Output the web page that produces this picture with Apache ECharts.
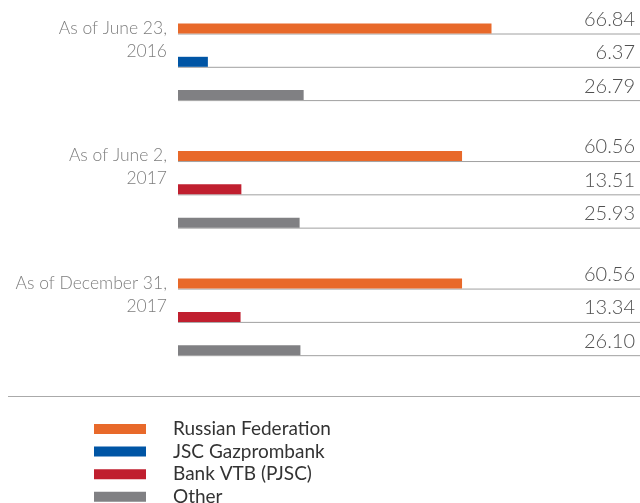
<!DOCTYPE html>
<html>
<head>
<meta charset="utf-8">
<script src="https://cdn.jsdelivr.net/npm/echarts@6/dist/echarts.min.js"></script>
<style>
html,body{margin:0;padding:0;background:#fff;}
#main{width:640px;height:503px;}
</style>
</head>
<body>
<div id="main"></div>
<script>
var periods = ['As of June 23,\n2016', 'As of June 2,\n2017', 'As of December 31,\n2017'];
var holders = ['Russian Federation', 'JSC Gazprombank', 'Bank VTB (PJSC)', 'Other'];
var russianFederation = [66.84, 60.56, 60.56];
var gazprombank = [6.37, null, null];
var bankVtb = [null, 13.51, 13.34];
var other = [26.79, 25.93, 26.10];

var colors = ['#e8692a', '#0055a5', '#c01f2f', '#808083'];
var FONT = 'Lato, "Open Sans", sans-serif';
var GROUP_STEP = 3.83;   // spacing between periods, in row units

var chart = echarts.init(document.getElementById('main'));

// turn one holder's values into [value, row position]
function rows(values, row){
	var out = [];
	for(var g=0; g<values.length; g++){
		if(values[g] != null){
			out.push([values[g], g*GROUP_STEP + row]);
		}
	}
	return out;
}

function renderBar(params, api){
	var v = api.value(0);
	var start = api.coord([0, api.value(1)]);
	var end = api.coord([v, api.value(1)]);
	var w = api.getWidth();
	return {
		type: 'group',
		children: [
			{type:'line', shape:{x1:start[0], y1:start[1]+0.5, x2:w, y2:start[1]+0.5},
				style:{stroke:'#a0a0a0', lineWidth:1}},
			{type:'rect', shape:{x:start[0], y:start[1]-10, width:end[0]-start[0], height:10},
				style:{fill:api.visual('color')}},
			{type:'text', style:{text:v.toFixed(2), x:w-5, y:start[1]-4, align:'right', verticalAlign:'bottom',
				fill:'#505050', font:'300 20px ' + FONT}}
		]
	};
}

function renderPeriod(params, api){
	var p = api.coord([0, api.value(1)]);
	return {
		type:'text',
		style:{text:periods[params.dataIndex], x:p[0]-11, y:p[1]-17, align:'right', verticalAlign:'top',
			fill:'#7d7d7d', font:'300 17.5px ' + FONT, lineHeight:23}
	};
}

function barSeries(name, values, row, color){
	return {
		name: name,
		type: 'custom',
		renderItem: renderBar,
		itemStyle: {color: color},
		encode: {x: 0, y: 1},
		data: rows(values, row)
	};
}

var option = {
	animation: false,
	color: colors,
	grid: {left: 178, top: 33.5, right: 0, height: 333},
	xAxis: {type: 'value', min: 0, max: 98.5, show: false},
	yAxis: {type: 'value', min: 0, max: 10, inverse: true, show: false},
	legend: {
		data: holders,
		orient: 'vertical',
		left: 94,
		top: 419,
		height: 110,
		padding: 0,
		icon: 'rect',
		itemWidth: 52,
		itemHeight: 10,
		itemGap: 2.6,
		textStyle: {fontFamily: FONT, fontSize: 19, color: '#333', lineHeight: 20, padding: [0, 0, 0, 22]}
	},
	graphic: [
		{type:'line', shape:{x1:8, y1:396.5, x2:640, y2:396.5}, style:{stroke:'#aaa', lineWidth:1}}
	],
	series: [
		barSeries(holders[0], russianFederation, 0, colors[0]),
		barSeries(holders[1], gazprombank, 1, colors[1]),
		barSeries(holders[2], bankVtb, 1, colors[2]),
		barSeries(holders[3], other, 2, colors[3]),
		{
			type: 'custom',
			renderItem: renderPeriod,
			encode: {x: 0, y: 1},
			data: periods.map(function(p, g){ return [0, g*GROUP_STEP]; })
		}
	]
};
chart.setOption(option);
</script>
</body>
</html>
